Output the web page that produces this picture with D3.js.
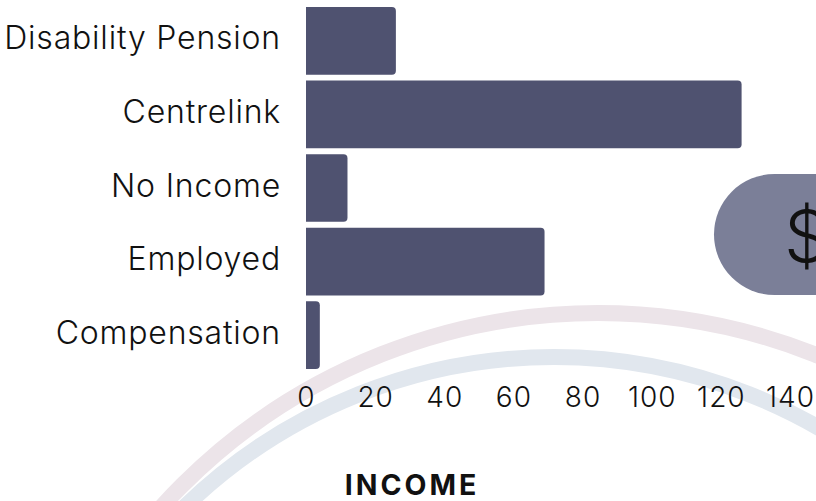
<!DOCTYPE html>
<html><head><meta charset="utf-8">
<script src="https://cdn.jsdelivr.net/npm/d3@7"></script>
<style>html,body{margin:0;padding:0;background:#fff;overflow:hidden;} svg{display:block;}</style>
</head><body>
<script>
const categories = ["Disability Pension", "Centrelink", "No Income", "Employed", "Compensation"];
const values = [26, 126, 12, 69, 4];
const tickValues = [0, 20, 40, 60, 80, 100, 120, 140];
const chartTitle = "INCOME";
const badgeSymbol = "$";

const W = 816, H = 501;
const svg = d3.select("body").append("svg").attr("width", W).attr("height", H);

// decorative background arcs
svg.append("circle").attr("cx", 598).attr("cy", 901).attr("r", 588)
  .attr("fill", "none").attr("stroke", "#ece4e9").attr("stroke-width", 16);
svg.append("circle").attr("cx", 554).attr("cy", 887).attr("r", 530)
  .attr("fill", "none").attr("stroke", "#e1e7ee").attr("stroke-width", 16);

const x = d3.scaleLinear().domain([0, 140]).range([306, 790]);
const y = d3.scaleBand().domain(categories).range([4, 372]).paddingInner(0.08).paddingOuter(0.04);

function barPath(x0, y0, w, h, r) {
  r = Math.min(r, w, h / 2);
  return `M${x0},${y0}H${x0 + w - r}A${r},${r} 0 0 1 ${x0 + w},${y0 + r}V${y0 + h - r}A${r},${r} 0 0 1 ${x0 + w - r},${y0 + h}H${x0}Z`;
}

const data = categories.map((c, i) => ({ c, v: values[i] }));

svg.append("g").selectAll("path").data(data).join("path")
  .attr("d", d => barPath(x(0), y(d.c), x(d.v) - x(0), y.bandwidth(), 4))
  .attr("fill", "#4f5270");

// category labels
svg.append("g").selectAll("text").data(data).join("text")
  .attr("x", 281)
  .attr("y", d => y(d.c) + y.bandwidth() / 2 + 8.5)
  .attr("text-anchor", "end")
  .attr("font-family", "Inter, sans-serif")
  .attr("font-weight", 300)
  .attr("font-size", 32)
  .attr("letter-spacing", 0.8)
  .attr("fill", "#111")
  .text(d => d.c);

// x axis
const ax = svg.append("g").attr("transform", "translate(0,372)")
  .call(d3.axisBottom(x).tickValues(tickValues).tickSize(0).tickPadding(15));
ax.select(".domain").remove();
ax.selectAll("text")
  .attr("font-family", "Inter, sans-serif")
  .attr("font-weight", 300)
  .attr("font-size", 28)
  .attr("letter-spacing", 1)
  .attr("fill", "#111");

// badge pill
svg.append("rect").attr("x", 714).attr("y", 174).attr("width", 260).attr("height", 121)
  .attr("rx", 60.5).attr("ry", 60.5).attr("fill", "#7b7f98");
svg.append("text").attr("x", 784).attr("y", 262)
  .attr("font-family", "Inter, sans-serif").attr("font-weight", 300)
  .attr("font-size", 72).attr("fill", "#111").text(badgeSymbol);

// title
svg.append("text").attr("x", 412).attr("y", 495).attr("text-anchor", "middle")
  .attr("font-family", "Inter, sans-serif").attr("font-weight", 700)
  .attr("font-size", 28.5).attr("letter-spacing", 3).attr("fill", "#111").text(chartTitle);
</script>
</body></html>
